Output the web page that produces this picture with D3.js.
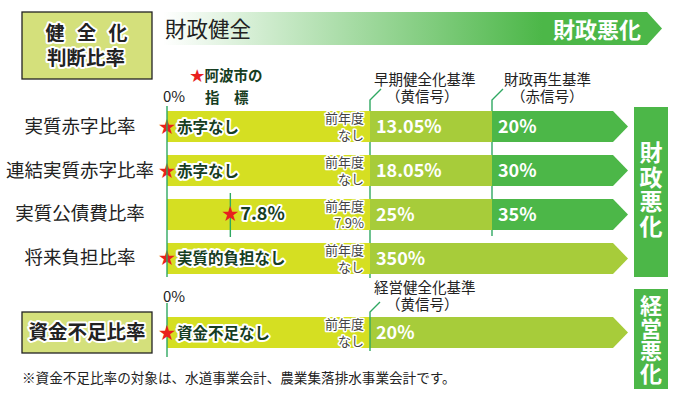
<!DOCTYPE html>
<html><head><meta charset="utf-8">
<script src="https://cdn.jsdelivr.net/npm/d3@7"></script>
<style>
body{margin:0;background:#fff}
svg text{font-family:"Noto Sans CJK JP","Noto Sans",sans-serif}
.halo{paint-order:stroke;stroke:#fff;stroke-linejoin:round}
.vert{writing-mode:vertical-rl}
</style></head><body><div id="chart"></div>
<script>
// 健全化判断比率
const rowLabels = ["実質赤字比率","連結実質赤字比率","実質公債費比率","将来負担比率"];
const cityValues = [null, null, 7.8, null];          // null = 該当なし
const cityTexts = ["赤字なし","赤字なし","7.8%","実質的負担なし"];
const prevTexts = ["なし","なし","7.9%","なし"];
const earlyLimits = [13.05, 18.05, 25, 350];          // 早期健全化基準
const rebuildLimits = [20, 30, 35, null];             // 財政再生基準

// 資金不足比率
const fundLabel = "資金不足比率";
const fundText = "資金不足なし";
const fundPrev = "なし";
const fundLimit = 20;                                 // 経営健全化基準

const W = 678, H = 399;
const C = {yellow:"#d5df22", light:"#a7cc3a", green:"#4cb748", box:"#d4e07b", line:"#2fa862", star:"#e8201e", ink:"#222", dark:"#163d22"};

const svg = d3.select("#chart").append("svg").attr("width",W).attr("height",H);
const defs = svg.append("defs");

// zone positions: 0% | 早期 | 再生 | end of bar
const xZone = d3.scaleLinear().domain([0,1,2,3]).range([167,370,492,613]);
const y = d3.scaleBand().domain(rowLabels).range([111,274]).paddingInner(0.295);
const bh = y.bandwidth();

function arrow(x0,x1,y0,h){
  return "M"+x0+","+y0+"L"+x1+","+y0+"L"+(x1+15)+","+(y0+h/2)+"L"+x1+","+(y0+h)+"L"+x0+","+(y0+h)+"Z";
}
function halo(t,w){ return t.attr("class","halo").attr("stroke-width",w); }
function prevLabel(g,cy,txt){
  const t = halo(g.append("text"),3).attr("text-anchor","end").attr("font-size",13).attr("fill","#444");
  t.append("tspan").attr("x",xZone(1)-6).attr("y",cy-3.5).text("前年度");
  t.append("tspan").attr("x",xZone(1)-6).attr("y",cy+13.5).text(txt);
}
function critLabel(x,dx1,dx2,y1,a,b){
  const t = svg.append("text").attr("font-size",14.5).attr("fill",C.ink);
  t.append("tspan").attr("x",x+dx1).attr("y",y1).text(a);
  t.append("tspan").attr("x",x+dx2).attr("y",y1+17).text(b);
}

// ---- header ----
const grad = defs.append("linearGradient").attr("id","hg").attr("x1","0%").attr("x2","100%");
grad.append("stop").attr("offset","0%").attr("stop-color","#fff");
grad.append("stop").attr("offset","76%").attr("stop-color",C.green);
grad.append("stop").attr("offset","100%").attr("stop-color",C.green);
svg.append("path").attr("d",arrow(163,647,12,33)).attr("fill","url(#hg)");
svg.append("text").attr("x",165).attr("y",37).attr("font-size",21.5).attr("fill",C.ink).text("財政健全");
svg.append("text").attr("x",641).attr("y",38).attr("text-anchor","end").attr("font-size",22)
  .attr("font-weight","bold").attr("fill","#fff").text("財政悪化");

svg.append("rect").attr("x",22).attr("y",12).attr("width",130).attr("height",67)
  .attr("fill",C.box).attr("stroke","#222").attr("stroke-width",1.3);
["健","全","化"].forEach((ch,k)=>{
  halo(svg.append("text"),4).attr("x",55+k*31.5).attr("y",40).attr("text-anchor","middle").attr("font-size",19)
    .attr("font-weight","bold").attr("fill",C.ink).text(ch);
});
halo(svg.append("text"),4).attr("x",86).attr("y",65).attr("text-anchor","middle").attr("font-size",19.5)
  .attr("font-weight","bold").attr("fill",C.ink).text("判断比率");

svg.append("text").attr("x",163).attr("y",102).attr("font-size",15).attr("fill",C.ink).text("0%");
const ind = svg.append("text").attr("font-size",14.5).attr("font-weight","bold").attr("fill",C.dark)
  .attr("xml:space","preserve");
ind.append("tspan").attr("x",190).attr("y",81).attr("fill",C.star).text("★");
ind.append("tspan").text("阿波市の");
ind.append("tspan").attr("x",205).attr("y",103).text("指　標");

// criteria labels
const crit = [
  {x:xZone(1), a:"早期健全化基準", b:"（黄信号）", dx1:4, dx2:16, bottom:y(rowLabels[3])+bh+4},
  {x:xZone(2), a:"財政再生基準", b:"（赤信号）", dx1:12, dx2:19, bottom:y(rowLabels[2])+bh+6}
];
crit.forEach(c=>{
  critLabel(c.x,c.dx1,c.dx2,85,c.a,c.b);
  svg.append("path").attr("d","M"+(c.x+11)+",89L"+c.x+",100L"+c.x+","+c.bottom)
    .attr("fill","none").attr("stroke",C.line).attr("stroke-width",1.4);
});

// ---- bars ----
const rows = svg.append("g");
rowLabels.forEach((lab,i)=>{
  const y0 = y(lab);
  const hasRebuild = rebuildLimits[i] != null;
  rows.append("rect").attr("x",xZone(0)).attr("y",y0).attr("width",xZone(1)-xZone(0)).attr("height",bh).attr("fill",C.yellow);
  if(hasRebuild){
    rows.append("rect").attr("x",xZone(1)).attr("y",y0).attr("width",xZone(2)-xZone(1)).attr("height",bh).attr("fill",C.light);
    rows.append("path").attr("d",arrow(xZone(2),xZone(3),y0,bh)).attr("fill",C.green);
  } else {
    rows.append("path").attr("d",arrow(xZone(1),xZone(3),y0,bh)).attr("fill",C.light);
  }
  const cy = y0+bh/2;
  rows.append("text").attr("x",80).attr("y",cy+6).attr("text-anchor","middle").attr("font-size",18.5)
    .attr("fill",C.ink).text(lab);

  prevLabel(rows,cy,prevTexts[i]);

  rows.append("text").attr("x",xZone(1)+6).attr("y",cy+6.5).attr("font-size",18).attr("font-weight","bold")
    .attr("fill","#fff").text(earlyLimits[i]+"%");
  if(hasRebuild) rows.append("text").attr("x",xZone(2)+6).attr("y",cy+6.5).attr("font-size",18)
    .attr("font-weight","bold").attr("fill","#fff").text(rebuildLimits[i]+"%");

  // city marker
  let sx = xZone(0);
  if(cityValues[i] != null){
    const xv = d3.scaleLinear().domain([0,earlyLimits[i]]).range([xZone(0),xZone(1)]);
    sx = xv(cityValues[i]);
    rows.append("line").attr("x1",sx).attr("x2",sx).attr("y1",y0-6).attr("y2",y0+bh+7)
      .attr("stroke",C.line).attr("stroke-width",1.4);
  }
  rows.append("text").attr("x",sx).attr("y",cy+6).attr("text-anchor","middle").attr("font-size",17)
    .attr("fill",C.star).text("★");
  halo(rows.append("text"),4).attr("x",sx+10).attr("y",cy+6).attr("font-size",cityValues[i]!=null?18:15.5)
    .attr("font-weight","bold").attr("fill",C.dark).text(cityTexts[i]);
});
svg.append("line").attr("x1",xZone(0)).attr("x2",xZone(0)).attr("y1",106).attr("y2",277)
  .attr("stroke",C.line).attr("stroke-width",1.4);

// right box
svg.append("rect").attr("x",634).attr("y",107).attr("width",34).attr("height",170).attr("fill",C.green);
svg.append("text").attr("class","vert").attr("x",651).attr("y",190).attr("text-anchor","middle")
  .attr("font-size",23).attr("letter-spacing",1.7).attr("font-weight","bold").attr("fill","#fff").text("財政悪化");

// ---- 資金不足比率 ----
const fy = 317, fh = 31;
svg.append("text").attr("x",163).attr("y",302).attr("font-size",15).attr("fill",C.ink).text("0%");
svg.append("rect").attr("x",22).attr("y",312).attr("width",130).attr("height",41)
  .attr("fill",C.box).attr("stroke","#222").attr("stroke-width",1.3);
halo(svg.append("text"),4).attr("x",87).attr("y",339).attr("text-anchor","middle").attr("font-size",19.5)
  .attr("font-weight","bold").attr("fill",C.ink).text(fundLabel);
svg.append("rect").attr("x",xZone(0)).attr("y",fy).attr("width",xZone(1)-xZone(0)).attr("height",fh).attr("fill",C.yellow);
svg.append("path").attr("d",arrow(xZone(1),xZone(3),fy,fh)).attr("fill",C.light);
critLabel(xZone(1),4,16,293,"経営健全化基準","（黄信号）");
svg.append("path").attr("d","M"+(xZone(1)+10)+",302L"+xZone(1)+",312L"+xZone(1)+",351")
  .attr("fill","none").attr("stroke",C.line).attr("stroke-width",1.4);
svg.append("line").attr("x1",xZone(0)).attr("x2",xZone(0)).attr("y1",303).attr("y2",357)
  .attr("stroke",C.line).attr("stroke-width",1.4);
const fcy = fy+fh/2;
svg.append("text").attr("x",xZone(0)).attr("y",fcy+6).attr("text-anchor","middle").attr("font-size",17)
  .attr("fill",C.star).text("★");
halo(svg.append("text"),4).attr("x",xZone(0)+10).attr("y",fcy+6).attr("font-size",15.5)
  .attr("font-weight","bold").attr("fill",C.dark).text(fundText);
prevLabel(svg,fcy,fundPrev);
svg.append("text").attr("x",xZone(1)+6).attr("y",fcy+6.5).attr("font-size",18).attr("font-weight","bold")
  .attr("fill","#fff").text(fundLimit+"%");

svg.append("rect").attr("x",634).attr("y",289).attr("width",34).attr("height",100).attr("fill",C.green);
svg.append("text").attr("class","vert").attr("x",651).attr("y",340).attr("text-anchor","middle")
  .attr("font-size",22).attr("letter-spacing",0.5).attr("font-weight","bold").attr("fill","#fff").text("経営悪化");

svg.append("text").attr("x",22).attr("y",383).attr("font-size",13.6).attr("fill",C.ink)
  .text("※資金不足比率の対象は、水道事業会計、農業集落排水事業会計です。");
</script></body></html>
